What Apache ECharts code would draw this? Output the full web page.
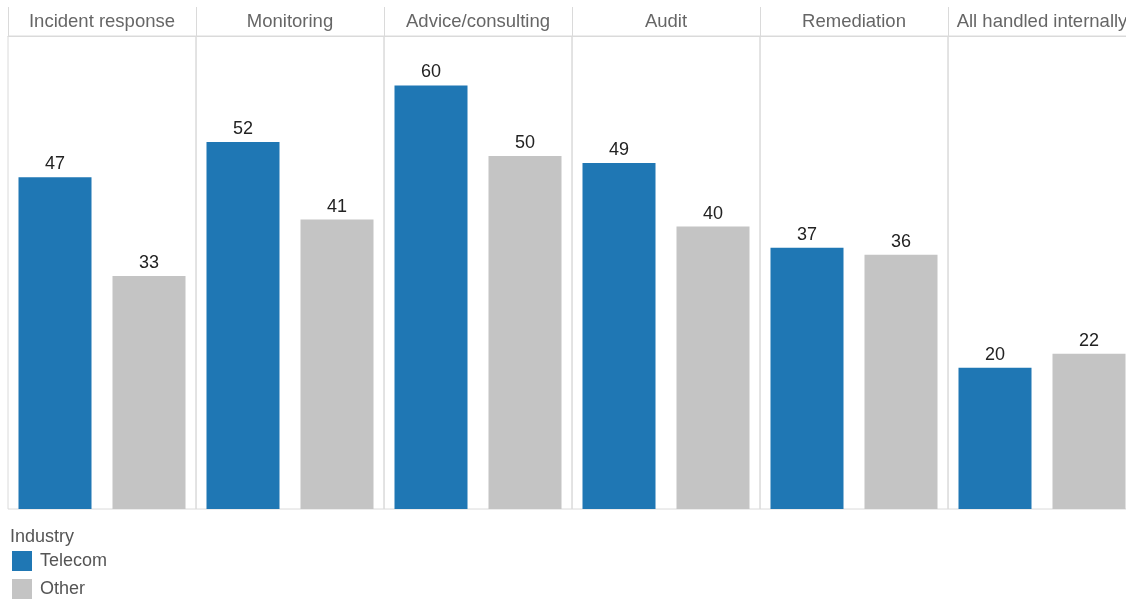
<!DOCTYPE html>
<html>
<head>
<meta charset="utf-8">
<script src="https://cdn.jsdelivr.net/npm/echarts@6/dist/echarts.min.js"></script>
<style>
  html, body { margin: 0; padding: 0; background: #fff; }
  #chart { width: 1126px; height: 602px; }
</style>
</head>
<body>
<div id="chart"></div>
<script>
// Survey answers by service type, split by industry (percent)
const panels = ['Incident response', 'Monitoring', 'Advice/consulting', 'Audit', 'Remediation', 'All handled internally'];
const groups = ['Telecom', 'Other'];
const telecom = [47, 52, 60, 49, 37, 20];
const other = [33, 41, 50, 40, 36, 22];

const colors = { Telecom: '#1f77b4', Other: '#c4c4c4' };
const FONT = '"Liberation Sans", Arial, sans-serif';
const LINE = '#dadada';

// facet geometry (the last facet runs past the right edge)
const panelLeft = 8, panelWidth = 188, panelTop = 36, panelHeight = 473;

const grid = [], xAxis = [], yAxis = [], series = [];

panels.forEach((name, i) => {
  grid.push({
    left: panelLeft + panelWidth * i,
    top: panelTop,
    width: panelWidth,
    height: panelHeight,
    show: true,
    borderColor: LINE,
    borderWidth: 1,
    containLabel: false,
    outerBoundsMode: 'none'
  });
  // bottom axis: the two industry slots
  xAxis.push({
    type: 'category',
    gridIndex: i,
    data: groups,
    axisLine: { show: false },
    axisTick: { show: false },
    axisLabel: { show: false }
  });
  // top axis: panel header with separator ticks
  xAxis.push({
    type: 'category',
    gridIndex: i,
    position: 'top',
    data: [name],
    axisLine: { show: true, lineStyle: { color: LINE } },
    axisTick: { show: true, length: 29, lineStyle: { color: LINE } },
    axisLabel: { show: true, margin: 5, fontSize: 18.5, color: '#666', fontFamily: FONT }
  });
  yAxis.push({
    type: 'value',
    gridIndex: i,
    min: 0,
    max: 67,
    show: false,
    splitLine: { show: false }
  });
  const vals = { Telecom: [telecom[i], null], Other: [null, other[i]] };
  groups.forEach(g => {
    series.push({
      name: g,
      type: 'bar',
      xAxisIndex: 2 * i,
      yAxisIndex: i,
      data: vals[g],
      barWidth: 73,
      barGap: '-100%',
      itemStyle: { color: colors[g] },
      label: {
        show: true,
        position: 'top',
        distance: 4,
        fontSize: 18,
        color: '#222',
        fontFamily: FONT
      },
      animation: false
    });
  });
});

const chart = echarts.init(document.getElementById('chart'), null, { renderer: 'canvas' });
chart.setOption({
  animation: false,
  textStyle: { fontFamily: FONT },
  title: {
    text: 'Industry',
    left: 10,
    top: 528,
    padding: 0,
    textStyle: { fontSize: 18, fontWeight: 'normal', color: '#555', fontFamily: FONT }
  },
  legend: {
    data: groups,
    orient: 'vertical',
    left: 12,
    top: 551,
    padding: 0,
    itemWidth: 20,
    itemHeight: 20,
    itemGap: 8,
    icon: 'rect',
    textStyle: { fontSize: 18, color: '#555', fontFamily: FONT, padding: [0, 0, 0, 3] }
  },
  grid, xAxis, yAxis, series
});
</script>
</body>
</html>
